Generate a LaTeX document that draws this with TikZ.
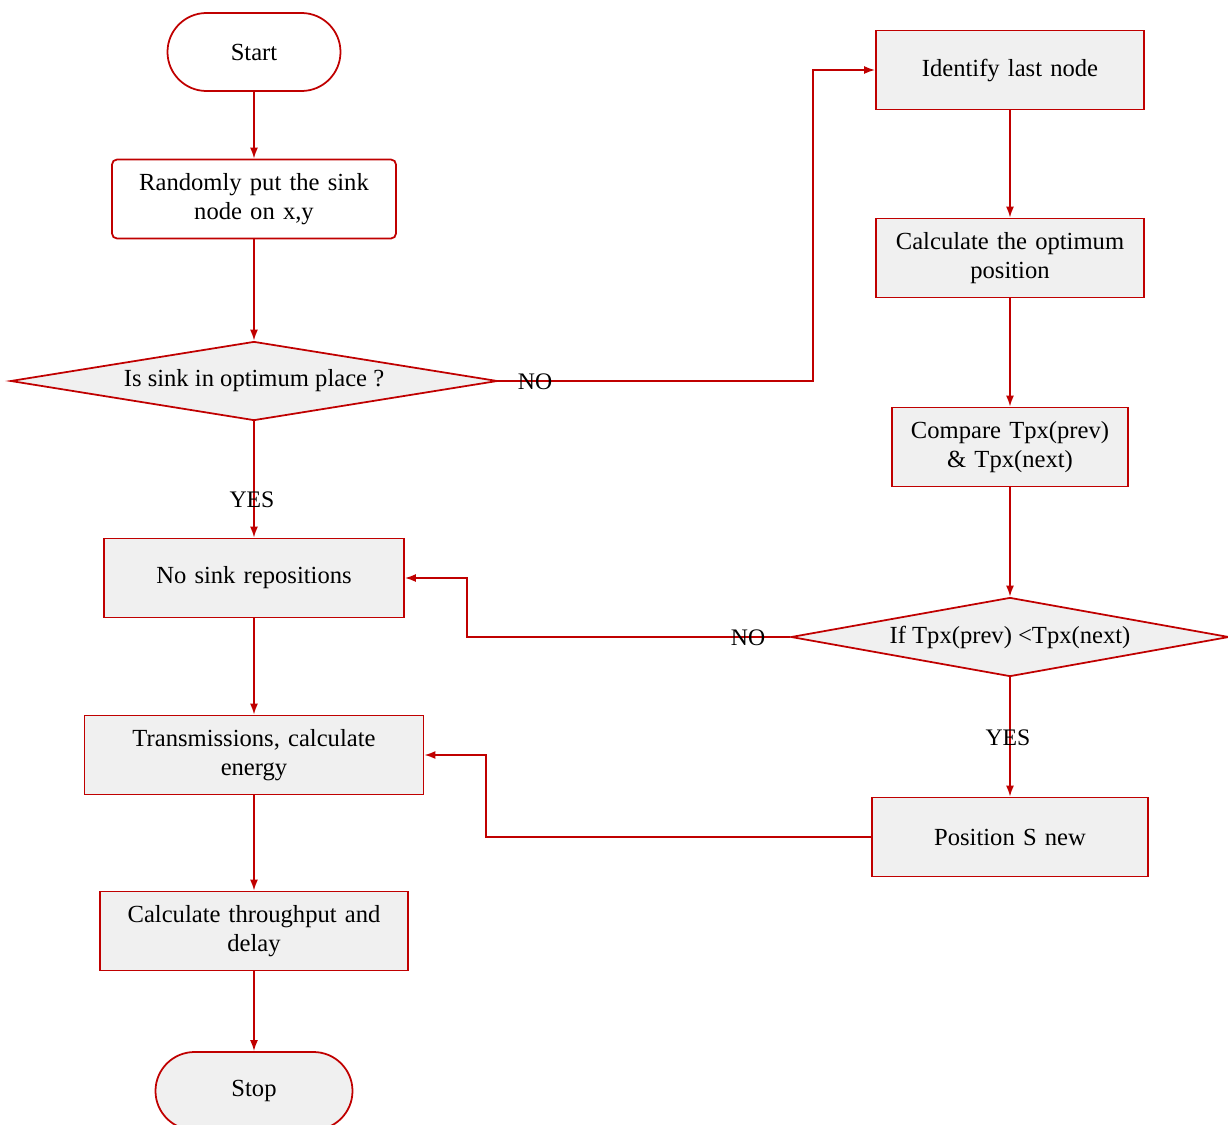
\documentclass[tikz,border=0pt]{standalone}
\usepackage{fontspec}
\setmainfont{Liberation Serif}
\usepackage{tikz}
\usetikzlibrary{shapes.geometric,arrows.meta}
\usepackage{xcolor}
\definecolor{flowred}{HTML}{C00000}
\definecolor{boxgray}{HTML}{F0F0F0}

\begin{document}
\begin{tikzpicture}[
  font=\fontsize{14}{16.5}\selectfont,
  box/.style={draw=flowred,line width=1pt,fill=boxgray,align=center,
    minimum height=1.58cm,inner xsep=0pt,inner ysep=2pt,text width=#1},
  term/.style={draw=flowred,line width=1pt,fill=boxgray,
    minimum height=1.56cm,minimum width=#1,rounded corners=0.78cm},
  decision/.style={draw=flowred,line width=1pt,fill=boxgray,diamond,
    inner sep=0pt,minimum width=#1,minimum height=1.58cm},
  conn/.style={draw=flowred,line width=1pt},
  arr/.style={conn,-{Latex[length=2.2mm,width=1.6mm]}},
  lbl/.style={font=\fontsize{13.5}{15}\selectfont,inner sep=0pt}
  ]
\useasboundingbox (0,0) rectangle (24.56,-22.48);
\def\lx{5.08}
\def\rx{20.2}
% left column
\node[term=3.46cm,fill=white] (start) at (\lx,-1.04) {Start};
\node[box=5.68cm,fill=white,rounded corners=0.1cm] (rand) at (\lx,-3.98) {Randomly put the sink\\ node on x,y};
\node[decision=9.74cm,aspect=6.16] (q1) at (\lx,-7.62) {Is sink in optimum place ?};
\node[box=6.0cm] (nosink) at (\lx,-11.56) {No sink repositions};
\node[box=6.78cm] (trans) at (\lx,-15.1) {Transmissions, calculate\\ energy};
\node[box=6.16cm] (thru) at (\lx,-18.62) {Calculate throughput and\\ delay};
\node[term=3.94cm] (stop) at (\lx,-21.82) {Stop};
% right column
\node[box=5.36cm] (last) at (\rx,-1.4) {Identify last node};
\node[box=5.36cm] (opt) at (\rx,-5.16) {Calculate the optimum\\ position};
\node[box=4.72cm] (comp) at (\rx,-8.94) {Compare Tpx(prev)\\ \& Tpx(next)};
\node[decision=8.76cm,aspect=5.54] (q2) at (\rx,-12.74) {If Tpx(prev) <Tpx(next)};
\node[box=5.52cm] (pos) at (\rx,-16.74) {Position S new};
% bends
\coordinate (k1) at (16.26,-7.62);
\coordinate (k2) at (9.34,-12.74);
\coordinate (k3) at (9.72,-16.74);
% connectors
\draw[arr] (start) -- (rand);
\draw[arr] (rand) -- (q1);
\draw[arr] (q1) -- (nosink);
\draw[arr] (nosink) -- (trans);
\draw[arr] (trans) -- (thru);
\draw[arr] (thru) -- (stop);
\draw[arr] (q1.east) -- (k1) |- (last.west);
\draw[arr] (last) -- (opt);
\draw[arr] (opt) -- (comp);
\draw[arr] (comp) -- (q2);
\draw[arr] (q2) -- (pos);
\draw[arr] (q2.west) -- (k2) |- (nosink.east);
\draw[arr] (pos.west) -- (k3) |- (trans.east);
% labels on the lines
\node[lbl] (yes1) at (5.04,-10.0) {YES};
\node[lbl] (no1) at (10.7,-7.64) {NO};
\node[lbl] (no2) at (14.96,-12.76) {NO};
\node[lbl] (yes2) at (20.16,-14.76) {YES};
\end{tikzpicture}
\end{document}
